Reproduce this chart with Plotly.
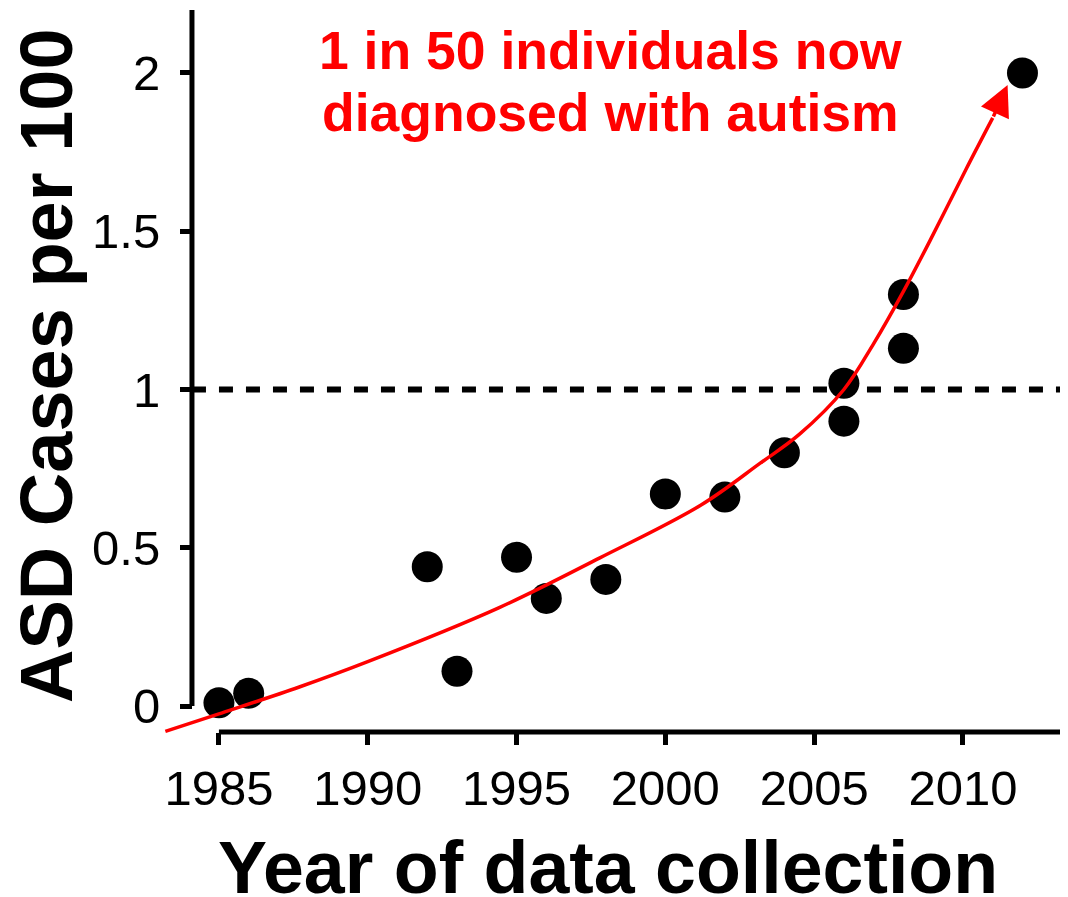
import plotly.graph_objects as go

# Survey points: ASD cases per 100 by year of data collection
years = [1985, 1986, 1992, 1993, 1995, 1996, 1998, 2000, 2002, 2004, 2006, 2006, 2008, 2008, 2012]
cases = [0.01, 0.04, 0.44, 0.11, 0.47, 0.34, 0.40, 0.67, 0.66, 0.80, 1.02, 0.90, 1.30, 1.13, 2.00]

# Trend curve (red line)
fit_years = [1983.2, 1985.0, 1987.7, 1990.0, 1994.4, 1997.8, 2001.2, 2003.2, 2004.5,
             2006.0, 2007.0, 2008.0, 2009.0, 2010.1, 2011.0]
fit_cases = [-0.08, -0.025, 0.06, 0.14, 0.31, 0.468, 0.635, 0.768, 0.858,
             1.0, 1.145, 1.31, 1.49, 1.695, 1.858]
arrow_tip = (2011.5, 1.962)

x_ticks = [1985, 1990, 1995, 2000, 2005, 2010]
y_ticks = [0, 0.5, 1, 1.5, 2]
y_tick_labels = ['0', '0.5', '1', '1.5', '2']
reference_level = 1.0

FONT = 'Arial, Liberation Sans, sans-serif'
RED = '#FF0000'
X_RANGE = [1983.02, 2013.53]
Y_RANGE = [-0.1232, 2.199]
Y_AXIS_POS = 0.056   # offset y axis, paper fraction
X_AXIS_POS = 0.0177  # offset x axis, paper fraction

fig = go.Figure()

fig.add_trace(go.Scatter(
    x=years, y=cases, mode='markers',
    marker=dict(size=31, color='black'),
    cliponaxis=False, hoverinfo='x+y'
))

fig.add_trace(go.Scatter(
    x=fit_years, y=fit_cases, mode='lines',
    line=dict(color=RED, width=3.5, shape='spline', smoothing=1.0),
    hoverinfo='skip'
))

# arrow head at the end of the trend curve
fig.add_annotation(
    x=arrow_tip[0], y=arrow_tip[1], xref='x', yref='y',
    ax=fit_years[-1], ay=fit_cases[-1], axref='x', ayref='y',
    text='', showarrow=True, arrowhead=2, arrowsize=1.75,
    arrowwidth=3.5, arrowcolor=RED
)

# headline text
fig.add_annotation(
    x=0.5075, y=0.945, xref='paper', yref='paper',
    text='<b>1 in 50 individuals now</b>', showarrow=False,
    font=dict(size=53.5, color=RED), xanchor='center', yanchor='middle'
)
fig.add_annotation(
    x=0.5075, y=0.86, xref='paper', yref='paper',
    text='<b>diagnosed with autism</b>', showarrow=False,
    font=dict(size=53.5, color=RED), xanchor='center', yanchor='middle'
)

# axis titles (the reference crops the bottom of the x title)
fig.add_annotation(
    x=0.5043, y=-0.166, xref='paper', yref='paper',
    text='<b>Year of data collection</b>', showarrow=False,
    font=dict(size=73.5, color='black'), xanchor='center', yanchor='middle'
)
fig.add_annotation(
    x=-0.1013, y=0.517, xref='paper', yref='paper', textangle=-90,
    text='<b>ASD Cases per 100</b>', showarrow=False,
    font=dict(size=74, color='black'), xanchor='center', yanchor='middle'
)

# dashed reference line at 1 case per 100
fig.add_shape(
    type='line', xref='paper', x0=Y_AXIS_POS, x1=1, yref='y',
    y0=reference_level, y1=reference_level,
    line=dict(color='black', width=6, dash='14px,13px'), layer='below'
)

# offset axis lines (Prism style)
fig.add_shape(
    type='line', xref='paper', x0=Y_AXIS_POS, x1=Y_AXIS_POS, yref='y',
    y0=0, y1=Y_RANGE[1], line=dict(color='black', width=5)
)
fig.add_shape(
    type='line', xref='x', x0=x_ticks[0], x1=X_RANGE[1], yref='paper',
    y0=X_AXIS_POS, y1=X_AXIS_POS, line=dict(color='black', width=5)
)

fig.update_layout(
    width=1060, height=889,
    margin=dict(l=132, r=0, t=2, b=152),
    paper_bgcolor='white', plot_bgcolor='white',
    showlegend=False,
    font=dict(family=FONT, color='black'),
    xaxis=dict(
        domain=[0.02155, 1], range=X_RANGE, anchor='free', position=X_AXIS_POS,
        tickvals=x_ticks, ticks='outside', ticklen=12, tickwidth=5,
        tickcolor='black', showline=False, showgrid=False, zeroline=False,
        tickfont=dict(size=49), automargin=False, ticklabelstandoff=1
    ),
    yaxis=dict(
        domain=[0, 1], range=Y_RANGE, anchor='free', position=Y_AXIS_POS,
        tickvals=y_ticks, ticktext=y_tick_labels, ticks='outside',
        ticklen=12, tickwidth=5, tickcolor='black', showline=False,
        showgrid=False, zeroline=False, tickfont=dict(size=49),
        automargin=False, ticklabelstandoff=10
    )
)

fig.write_html("out.html")
